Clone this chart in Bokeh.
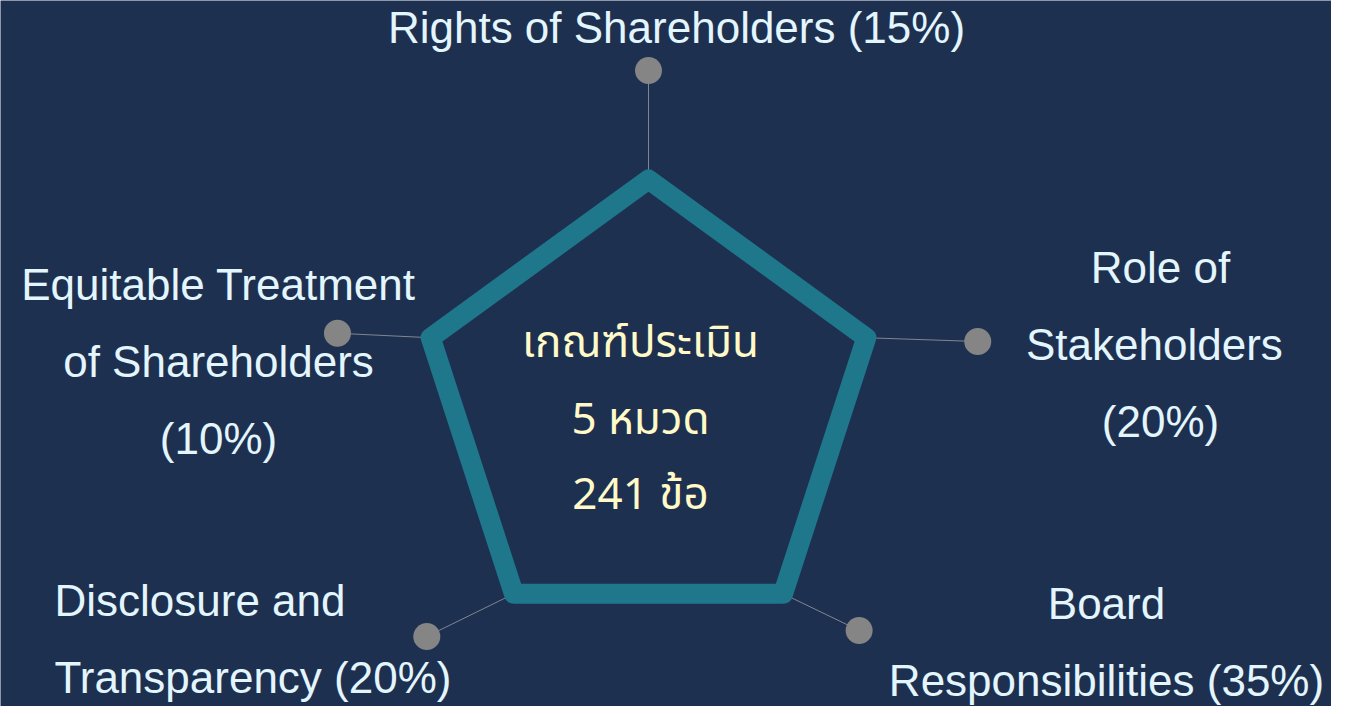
import math
from bokeh.plotting import figure
from bokeh.models import Range1d
from bokeh.core.properties import value
from bokeh.embed import file_html
from bokeh.resources import INLINE

# ---- data ----
categories = [
    "Rights of Shareholders",
    "Role of Stakeholders",
    "Board Responsibilities",
    "Disclosure and Transparency",
    "Equitable Treatment of Shareholders",
]
weights = [15, 20, 35, 20, 10]
scores = [100, 100, 100, 100, 100]   # every category drawn at full scale
score_max = 100
label_lines = [
    ["Rights of Shareholders (15%)"],
    ["Role of", "Stakeholders ", "(20%)"],
    ["Board", "Responsibilities (35%)"],
    ["Disclosure and", "Transparency (20%)"],
    ["Equitable Treatment", "of Shareholders", "(10%)"],
]
center_lines = ["เกณฑ์ประเมิน", "5 หมวด", "241 ข้อ"]

# ---- layout (screen pixels of the reference) ----
CX, CY, R = 648, 408, 229
axis_angle = [90, 18, -54, -126, 162]
node_angle = [90, 11.5, -46.5, -134.2, 166.4]
node_dist = [338, 336, 306, 318, 320]
label_anchor = [(676, 27, "center"), (1160, 267, "center"), (1106, 603, "center"),
                (54, 600, "left"), (218, 284, "center")]
LINE_STEP = 77

BG = "#1e3050"
TEAL = "#1f778c"

p = figure(width=1331, height=706, x_range=Range1d(0, 1331), y_range=Range1d(706, 0),
           output_backend="svg", toolbar_location=None, min_border=0)
p.axis.visible = False
p.grid.visible = False
p.outline_line_color = None
p.background_fill_color = BG
p.border_fill_color = BG

# radar polygon
vx, vy = [], []
for s, a in zip(scores, axis_angle):
    r = R * s / score_max
    vx.append(CX + r * math.cos(math.radians(a)))
    vy.append(CY - r * math.sin(math.radians(a)))

# connector lines + nodes
nx = [CX + d * math.cos(math.radians(a)) for d, a in zip(node_dist, node_angle)]
ny = [CY - d * math.sin(math.radians(a)) for d, a in zip(node_dist, node_angle)]
p.segment(x0=vx, y0=vy, x1=nx, y1=ny, line_color="#8a8f99", line_width=1, line_alpha=0.9)

p.patch(vx, vy, fill_color=None, line_color=TEAL, line_width=20, line_join="round")

p.scatter(nx, ny, size=27, fill_color="#858585", line_color=None)

# category labels
for lines, (lx, ly, al) in zip(label_lines, label_anchor):
    ys = [ly + i * LINE_STEP for i in range(len(lines))]
    p.text(x=[lx] * len(lines), y=ys, text=lines, text_align=al, text_baseline="alphabetic",
           text_font=value("Liberation Sans"), text_font_size="44px", text_color="#e3f5fd")

# center text
cys = [343, 420, 495]
p.text(x=[640] * 3, y=cys, text=center_lines, text_align="center", text_baseline="alphabetic",
       text_font=value("Noto Sans Thai, Loma, Garuda, Noto Sans, sans-serif"),
       text_font_size="44px", text_color="#fffac8")

open("out.html", "w").write(file_html(p, INLINE))
